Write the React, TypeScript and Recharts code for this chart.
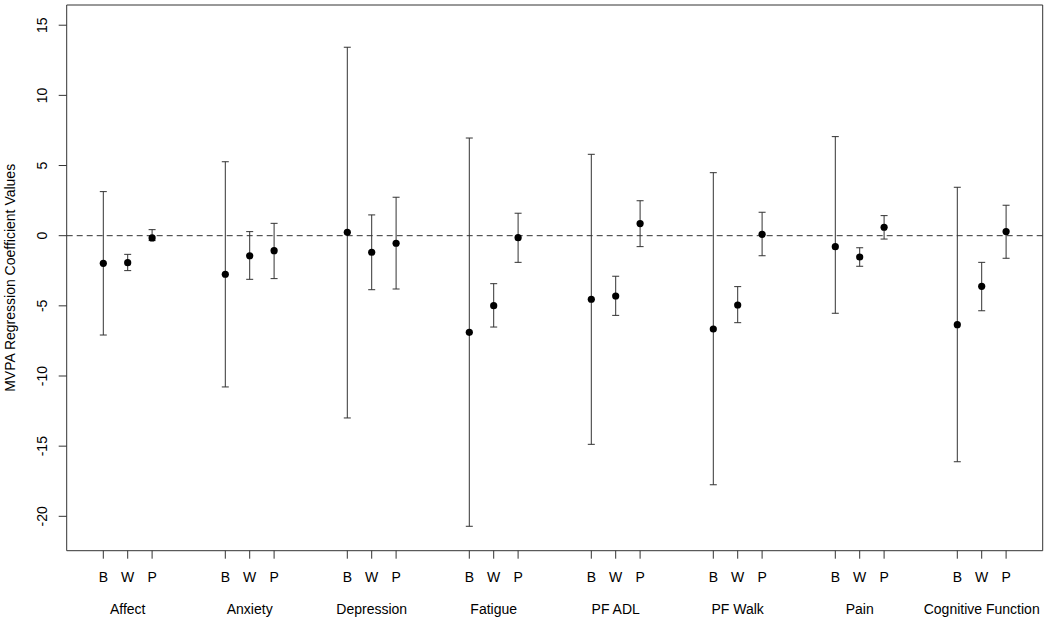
import React from 'react';
import { ScatterChart, Scatter, XAxis, YAxis, ErrorBar, ReferenceLine, ReferenceArea } from 'recharts';

const groups = ['Affect', 'Anxiety', 'Depression', 'Fatigue', 'PF ADL', 'PF Walk', 'Pain', 'Cognitive Function'];
const components = ['B', 'W', 'P'];

const estimateB = [-1.97, -2.75, 0.24, -6.89, -4.53, -6.65, -0.78, -6.34];
const lowerB = [-7.08, -10.78, -12.99, -20.71, -14.87, -17.75, -5.53, -16.11];
const upperB = [3.14, 5.27, 13.43, 6.96, 5.8, 4.49, 7.06, 3.45];

const estimateW = [-1.92, -1.43, -1.18, -4.99, -4.3, -4.94, -1.52, -3.61];
const lowerW = [-2.49, -3.11, -3.85, -6.51, -5.68, -6.2, -2.18, -5.35];
const upperW = [-1.33, 0.29, 1.48, -3.42, -2.89, -3.63, -0.86, -1.9];

const estimateP = [-0.16, -1.07, -0.54, -0.14, 0.86, 0.1, 0.6, 0.29];
const lowerP = [-0.35, -3.06, -3.8, -1.9, -0.78, -1.43, -0.24, -1.61];
const upperP = [0.43, 0.88, 2.74, 1.6, 2.49, 1.67, 1.43, 2.17];

const yTicks = [-20, -15, -10, -5, 0, 5, 10, 15];
const yDomain = [-22.45, 16.44];
const xDomain = [-0.5, 39.5];
const yLabel = 'MVPA Regression Coefficient Values';

const GROUP_STEP = 5;
const estimates = [estimateB, estimateW, estimateP];
const lowers = [lowerB, lowerW, lowerP];
const uppers = [upperB, upperW, upperP];

const points = groups.flatMap((_, g) =>
  components.map((_c, j) => {
    const y = estimates[j][g];
    return {
      x: g * GROUP_STEP + j + 1,
      y,
      err: [y - lowers[j][g], uppers[j][g] - y],
    };
  })
);
const xTicks = points.map((p) => p.x);

const FONT = '"Liberation Sans", Arial, Helvetica, sans-serif';
const LINE = '#333';

const XTick = (props: any) => {
  const { x, y, payload } = props;
  const v = payload.value;
  const g = Math.floor((v - 1) / GROUP_STEP);
  const j = (v - 1) % GROUP_STEP;
  return (
    <g>
      <text x={x} y={y + 23} textAnchor="middle" fontFamily={FONT} fontSize={14} fill="#000">
        {components[j]}
      </text>
      {j === 1 && (
        <text x={x} y={y + 55.6} textAnchor="middle" fontFamily={FONT} fontSize={14} fill="#000">
          {groups[g]}
        </text>
      )}
    </g>
  );
};

const YTick = (props: any) => {
  const { x, y, payload } = props;
  const bx = x - 11.2;
  return (
    <text
      x={bx}
      y={y}
      transform={`rotate(-90, ${bx}, ${y})`}
      textAnchor="middle"
      fontFamily={FONT}
      fontSize={14}
      fill="#000"
    >
      {payload.value}
    </text>
  );
};

const YLabel = (props: any) => {
  const vb = props.viewBox || {};
  const cy = (vb.y ?? 5) + (vb.height ?? 545.7) / 2;
  const bx = 15;
  return (
    <text
      x={bx}
      y={cy}
      transform={`rotate(-90, ${bx}, ${cy})`}
      textAnchor="middle"
      fontFamily={FONT}
      fontSize={14}
      fill="#000"
    >
      {yLabel}
    </text>
  );
};

const Dot = (props: any) => <circle cx={props.cx} cy={props.cy} r={3.6} fill="#000" />;

export default function App() {
  return (
    <div style={{ position: 'absolute', left: 0, top: 0, background: '#fff' }}>
      <ScatterChart width={1050} height={621} margin={{ top: 5, right: 7.3, bottom: 0, left: 0 }}>
        <XAxis
          type="number"
          dataKey="x"
          domain={xDomain}
          ticks={xTicks}
          allowDataOverflow
          interval={0}
          height={70.3}
          axisLine={false}
          tickSize={8}
          tickMargin={0}
          tickLine={{ stroke: LINE }}
          tick={<XTick />}
        />
        <YAxis
          type="number"
          dataKey="y"
          domain={yDomain}
          ticks={yTicks}
          allowDataOverflow
          interval={0}
          width={66.7}
          axisLine={false}
          tickSize={8}
          tickMargin={0}
          tickLine={{ stroke: LINE }}
          tick={<YTick />}
          label={<YLabel />}
        />
        <ReferenceArea
          x1={xDomain[0]}
          x2={xDomain[1]}
          y1={yDomain[0]}
          y2={yDomain[1]}
          fill="none"
          fillOpacity={0}
          stroke={LINE}
          strokeWidth={1}
          ifOverflow="visible"
        />
        <ReferenceLine y={0} stroke={LINE} strokeDasharray="6 4" strokeWidth={1} />
        <Scatter data={points} dataKey="y" isAnimationActive={false} shape={<Dot />}>
          <ErrorBar dataKey="err" direction="y" width={3.5} stroke={LINE} strokeWidth={1} isAnimationActive={false} />
        </Scatter>
      </ScatterChart>
    </div>
  );
}
